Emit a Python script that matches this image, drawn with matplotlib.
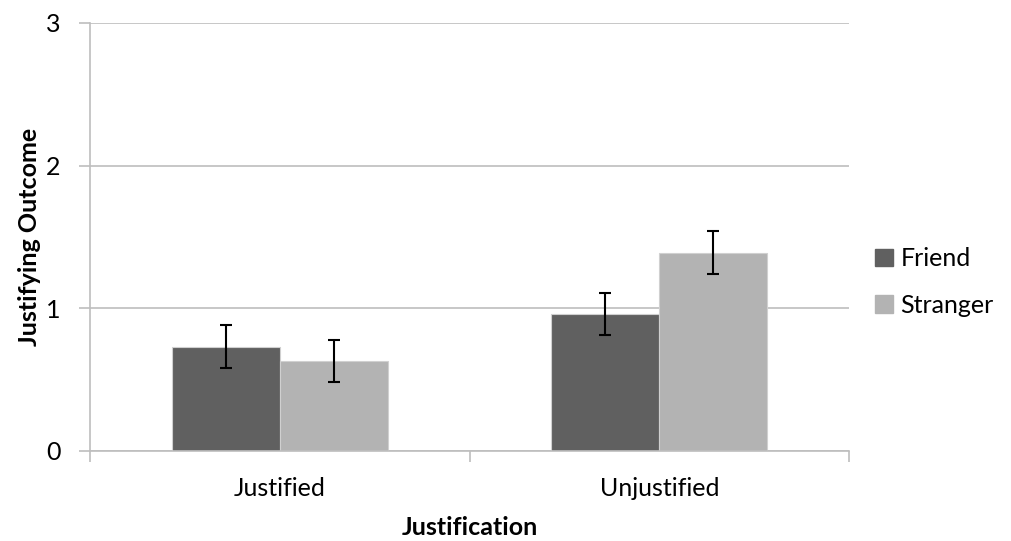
import numpy as np
import matplotlib.pyplot as plt
from matplotlib.patches import Patch

categories = ["Justified", "Unjustified"]
friend = [0.73, 0.96]
stranger = [0.63, 1.39]
friend_err = [0.15, 0.15]
stranger_err = [0.15, 0.15]

FRIEND_COLOR = "#606060"
STRANGER_COLOR = "#b3b3b3"
GRID_COLOR = "#bebebe"

plt.rcParams["font.family"] = ["Lato", "DejaVu Sans"]

fig = plt.figure(figsize=(10.11, 5.41), dpi=100)
ax = fig.add_axes([0.089, 0.1664, 0.7508, 0.7911])

x = np.arange(len(categories))
w = 0.285
err_kw = dict(ecolor="black", elinewidth=1.5, capsize=4, capthick=1.5)
ax.bar(x - w / 2, friend, w, yerr=friend_err, color=FRIEND_COLOR,
       edgecolor="#d0d0d0", linewidth=0.8, error_kw=err_kw, label="Friend", zorder=2)
ax.bar(x + w / 2, stranger, w, yerr=stranger_err, color=STRANGER_COLOR,
       edgecolor="#d0d0d0", linewidth=0.8, error_kw=err_kw, label="Stranger", zorder=2)

ax.set_xlim(-0.5, len(categories) - 0.5)
ax.set_ylim(0, 3)
ax.set_yticks([0, 1, 2, 3])
ax.yaxis.grid(True, color=GRID_COLOR, linewidth=1.2, zorder=0)
ax.set_axisbelow(True)

for s in ["top", "right"]:
    ax.spines[s].set_visible(False)
for s in ["left", "bottom"]:
    ax.spines[s].set_color(GRID_COLOR)
    ax.spines[s].set_linewidth(1.2)

# category labels centred, tick marks on the category boundaries
ax.set_xticks(x)
ax.set_xticklabels(categories, fontsize=18)
ax.tick_params(axis="x", length=0, pad=19)
ax.set_xticks(np.arange(len(categories) + 1) - 0.5, minor=True)
ax.tick_params(axis="x", which="minor", length=8, color=GRID_COLOR, width=1.2)
ax.tick_params(axis="y", length=8, color=GRID_COLOR, width=1.2, labelsize=18, pad=13)

ax.set_xlabel("Justification", fontsize=18, fontweight="bold", labelpad=11)
ax.set_ylabel("Justifying Outcome", fontsize=18, fontweight="bold", labelpad=4)

handles = [Patch(color=FRIEND_COLOR, label="Friend"),
           Patch(color=STRANGER_COLOR, label="Stranger")]
ax.legend(handles=handles, loc="center left", bbox_to_anchor=(1.005, 0.395),
          frameon=False, fontsize=18, handlelength=0.7, handleheight=0.7,
          handletextpad=0.3, labelspacing=0.95)

fig.savefig("out.png", dpi=100)
